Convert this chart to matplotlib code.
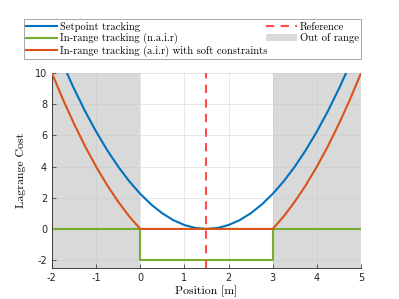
import matplotlib
matplotlib.use("Agg")
import matplotlib.pyplot as plt
from matplotlib.patches import Patch
from matplotlib.lines import Line2D

# Data
x = [-2.0, -1.75, -1.5, -1.25, -1.0, -0.75, -0.5, -0.25, 0.0, 0.25, 0.5, 0.75, 1.0, 1.25,
     1.5, 1.75, 2.0, 2.25, 2.5, 2.75, 3.0, 3.25, 3.5, 3.75, 4.0, 4.25, 4.5, 4.75, 5.0]
setpoint = [12.25, 10.56, 9.0, 7.56, 6.25, 5.06, 4.0, 3.06, 2.25, 1.56, 1.0, 0.56, 0.25, 0.06,
            0.0, 0.06, 0.25, 0.56, 1.0, 1.56, 2.25, 3.06, 4.0, 5.06, 6.25, 7.56, 9.0, 10.56, 12.25]
soft = [10.0, 8.31, 6.75, 5.31, 4.0, 2.81, 1.75, 0.81, 0.0, 0.0, 0.0, 0.0, 0.0, 0.0,
        0.0, 0.0, 0.0, 0.0, 0.0, 0.0, 0.0, 0.81, 1.75, 2.81, 4.0, 5.31, 6.75, 8.31, 10.0]
naix = [-2.0, 0.0, 0.0, 3.0, 3.0, 5.0]
naiy = [0.0, 0.0, -2.0, -2.0, 0.0, 0.0]
reference = 1.5
range_lo, range_hi = 0.0, 3.0
xticks = [-2, -1, 0, 1, 2, 3, 4, 5]
yticks = [-2, 0, 2, 4, 6, 8, 10]

blue = "#0072BD"
green = "#77AC30"
orange = "#D95319"
red = "#FF4D4D"
gray = "#D9D9D9"

plt.rcParams["mathtext.fontset"] = "cm"
plt.rcParams["axes.unicode_minus"] = False
serif = "cmr10"

fig = plt.figure(figsize=(3.99, 2.99), dpi=100)
ax = fig.add_axes([0.130, 0.104, 0.775, 0.652])

ax.axvspan(-2, range_lo, color=gray, lw=0, zorder=0)
ax.axvspan(range_hi, 5, color=gray, lw=0, zorder=0)

ax.plot(x, setpoint, color=blue, lw=1.5, zorder=3)
ax.plot(naix, naiy, color=green, lw=1.5, zorder=2)
ax.plot(x, soft, color=orange, lw=1.5, zorder=3)
ax.axvline(reference, color=red, lw=1.5, ls=(0, (4, 3)), zorder=4)

ax.set_xlim(-2, 5)
ax.set_ylim(-2.5, 10)
ax.set_xticks(xticks)
ax.set_yticks(yticks)
ax.grid(True, color="#C8C8C8", lw=0.5, alpha=0.6)
ax.set_axisbelow(True)
for s in ["top", "right"]:
    ax.spines[s].set_visible(False)
for s in ["left", "bottom"]:
    ax.spines[s].set_color("#262626")
    ax.spines[s].set_linewidth(0.6)
ax.tick_params(direction="in", length=3, width=0.5, labelsize=7, colors="#262626",
               labelfontfamily="DejaVu Sans")
ax.set_xlabel("Position [m]", fontfamily=serif, fontsize=8.5, labelpad=2)
ax.set_ylabel("Lagrange Cost", fontfamily=serif, fontsize=8.5, labelpad=6)

handles = [
    Line2D([], [], color=blue, lw=1.5),
    Line2D([], [], color=green, lw=1.5),
    Line2D([], [], color=orange, lw=1.5),
    Line2D([], [], color=red, lw=1.5, ls=(0, (4, 3))),
    Patch(facecolor=gray, edgecolor="none"),
]
labels = ["Setpoint tracking", "In-range tracking (n.a.i.r)",
          "In-range tracking (a.i.r) with soft constraints", "Reference", "Out of range"]
leg = fig.legend(handles, labels, ncol=2, loc="upper left",
                 bbox_to_anchor=(0.060, 0.799, 0.845, 0.136), mode="expand",
                 prop={"family": serif, "size": 7.6}, frameon=True, fancybox=False,
                 edgecolor="#7F7F7F", handlelength=2.9, handletextpad=0.3,
                 labelspacing=0.15, borderpad=0.2, columnspacing=1.0, borderaxespad=0)
leg.get_frame().set_linewidth(0.6)

fig.savefig("out.png", dpi=100)
